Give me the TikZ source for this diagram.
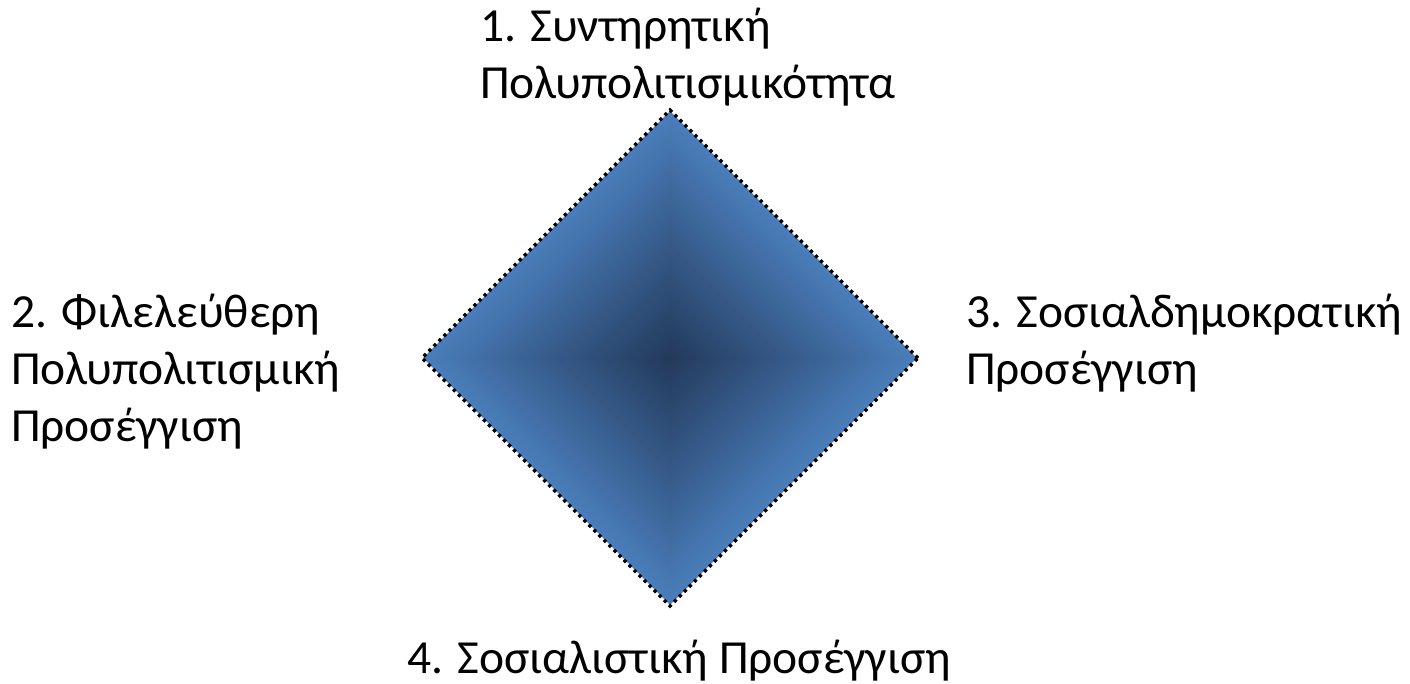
\documentclass[tikz,border=0pt]{standalone}
\usepackage{fontspec}
\setmainfont{Carlito}
\usetikzlibrary{calc}
\definecolor{edgeblue}{HTML}{4A7EBB}
\definecolor{coreblue}{HTML}{233A5C}
\tikzset{
  lbl/.style={anchor=base west, inner sep=0pt, outer sep=0pt, text=black,
    font=\fontsize{47.5}{57}\selectfont},
  dotborder/.style={draw=black, line width=3.3pt, dash pattern=on 3.3pt off 3.8pt, line join=miter}
}
\begin{document}
\begin{tikzpicture}[x=1pt,y=1pt]
\useasboundingbox (0,0) rectangle (1410,683);
\fill[white] (0,0) rectangle (1410,683);
\coordinate (C) at (670,325);
% diamond-shaped (L1) gradient as nested diamonds
\foreach \i in {0,...,99}{
  \pgfmathsetmacro{\r}{248*(1-\i/100)}
  \pgfmathsetmacro{\p}{100*\i/99}
  \fill[coreblue!\p!edgeblue] ($(C)+(\r,0)$) -- ($(C)+(0,\r)$) -- ($(C)+(-\r,0)$) -- ($(C)+(0,-\r)$) -- cycle;
}
\draw[white, line width=1.2pt] ($(C)+(248,0)$) -- ($(C)+(0,248)$) -- ($(C)+(-248,0)$) -- ($(C)+(0,-248)$) -- cycle;
\draw[dotborder] ($(C)+(248,0)$) -- ($(C)+(0,248)$) -- ($(C)+(-248,0)$) -- ($(C)+(0,-248)$) -- cycle;
% labels
\node[lbl] (t1) at (480,641) {1. Συντηρητική};
\node[lbl] (t2) at (480,584) {Πολυπολιτισμικότητα};
\node[lbl] (l1) at (11,355) {2. Φιλελεύθερη};
\node[lbl] (l2) at (11,298) {Πολυπολιτισμική};
\node[lbl] (l3) at (11,241) {Προσέγγιση};
\node[lbl] (r1) at (966,355) {3. Σοσιαλδημοκρατική};
\node[lbl] (r2) at (966,298) {Προσέγγιση};
\node[lbl] (b1) at (407,10) {4. Σοσιαλιστική Προσέγγιση};
\end{tikzpicture}
\end{document}
